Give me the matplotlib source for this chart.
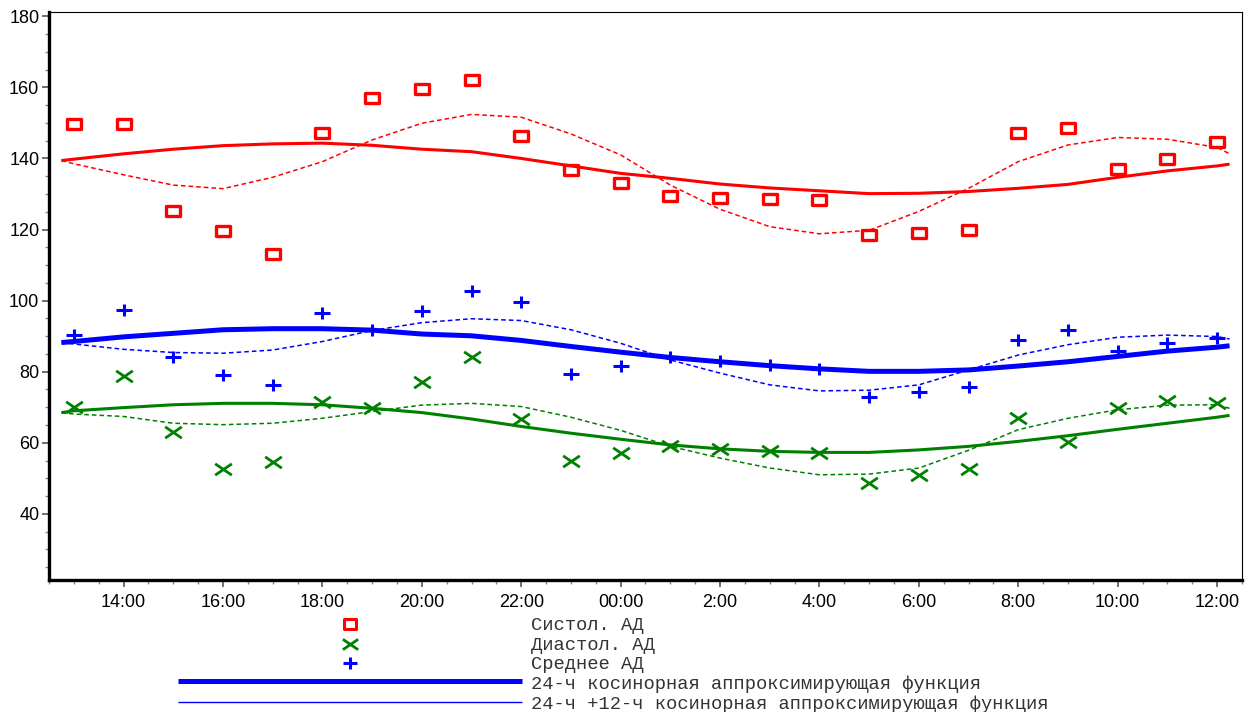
import matplotlib
matplotlib.use("Agg")
import matplotlib.pyplot as plt
from matplotlib.path import Path
from matplotlib.lines import Line2D
from matplotlib.ticker import MultipleLocator

# ---------------- data ----------------
hours = list(range(13, 37))  # 13:00 .. 12:00 next day (hours since first midnight)
systolic = [149.8, 149.8, 125.2, 119.6, 113.2, 147.2, 156.9, 159.4, 162.1, 146.4, 136.7, 133.0,
            129.3, 128.9, 128.5, 128.2, 118.5, 119.1, 119.9, 147.2, 148.7, 137.1, 139.8, 144.5]
diastolic = [70.2, 78.8, 63.1, 52.6, 54.6, 71.5, 69.8, 77.0, 84.0, 66.7, 54.8, 57.1,
             59.2, 58.3, 57.6, 57.1, 48.8, 50.8, 52.7, 67.1, 60.3, 69.9, 71.7, 71.1]
mean_bp = [90.3, 97.5, 84.1, 79.2, 76.3, 96.5, 91.8, 97.1, 102.8, 99.7, 79.3, 81.6,
           84.0, 82.9, 82.0, 80.9, 72.8, 74.3, 75.8, 89.0, 91.6, 85.9, 88.2, 89.4]

curve_hours = [12.75] + list(range(13, 37)) + [36.25]
sys_fit24 = [139.4, 139.8, 141.3, 142.6, 143.6, 144.1, 144.3, 143.7, 142.6, 141.9, 140.0, 137.9, 135.8,
             134.4, 132.8, 131.7, 130.9, 130.1, 130.2, 130.7, 131.6, 132.7, 134.7, 136.5, 137.9, 138.4]
sys_fit2412 = [139.4, 138.5, 135.4, 132.5, 131.5, 134.7, 139.1, 145.2, 149.9, 152.4, 151.6, 146.9, 141.0,
               132.5, 125.7, 120.8, 118.8, 119.8, 125.1, 131.6, 139.1, 143.8, 145.9, 145.4, 143.1, 141.3]
mean_fit24 = [88.2, 88.5, 89.8, 90.8, 91.8, 92.1, 92.1, 91.7, 90.6, 90.1, 88.8, 87.1, 85.5,
              84.0, 82.8, 81.7, 80.8, 80.1, 80.1, 80.5, 81.6, 82.8, 84.3, 85.8, 86.9, 87.3]
mean_fit2412 = [88.2, 87.8, 86.3, 85.4, 85.2, 86.1, 88.5, 91.6, 93.8, 94.9, 94.4, 91.8, 88.0,
                83.3, 79.6, 76.3, 74.6, 74.8, 76.3, 80.5, 84.7, 87.6, 89.7, 90.3, 89.9, 89.2]
dia_fit24 = [68.5, 69.0, 69.9, 70.7, 71.1, 71.1, 70.7, 69.7, 68.5, 66.7, 64.6, 62.7, 61.0,
             59.4, 58.3, 57.6, 57.3, 57.3, 58.0, 59.0, 60.4, 62.0, 63.8, 65.5, 67.2, 67.7]
dia_fit2412 = [68.5, 68.1, 67.4, 65.5, 65.1, 65.5, 66.9, 68.8, 70.6, 71.1, 70.2, 67.2, 63.5,
               59.0, 55.7, 52.9, 51.0, 51.2, 52.9, 57.9, 63.7, 66.9, 69.3, 70.6, 70.7, 69.7]

xtick_pos = [14, 16, 18, 20, 22, 24, 26, 28, 30, 32, 34, 36]
xtick_labels = ["14:00", "16:00", "18:00", "20:00", "22:00", "00:00",
                "2:00", "4:00", "6:00", "8:00", "10:00", "12:00"]
ytick_pos = [40, 60, 80, 100, 120, 140, 160, 180]

legend_labels = ["Систол. АД", "Диастол. АД", "Среднее АД",
                 "24-ч косинорная аппроксимирующая функция",
                 "24-ч +12-ч косинорная аппроксимирующая функция"]

# ---------------- markers ----------------
rect_marker = Path([(-1, -0.75), (1, -0.75), (1, 0.75), (-1, 0.75), (-1, -0.75)],
                   [Path.MOVETO, Path.LINETO, Path.LINETO, Path.LINETO, Path.CLOSEPOLY])
x_marker = Path([(-1, -0.68), (1, 0.68), (-1, 0.68), (1, -0.68)],
                [Path.MOVETO, Path.LINETO, Path.MOVETO, Path.LINETO])
plus_marker = Path([(-1, 0), (1, 0), (0, -0.8), (0, 0.8)],
                   [Path.MOVETO, Path.LINETO, Path.MOVETO, Path.LINETO])

RED = "#ff0000"
GREEN = "#008000"
BLUE = "#0000ff"

W, H = 1256, 712
fig = plt.figure(figsize=(W / 100, H / 100), dpi=100)
ax = fig.add_axes([49 / W, 1 - 580 / H, (1242 - 49) / W, (580 - 12) / H])

dash = (0, (3, 2))
ax.plot(curve_hours, sys_fit24, color=RED, lw=2.2, solid_capstyle="butt")
ax.plot(curve_hours, sys_fit2412, color=RED, lw=1.1, linestyle=dash)
ax.plot(curve_hours, mean_fit24, color=BLUE, lw=3.6, solid_capstyle="butt")
ax.plot(curve_hours, mean_fit2412, color=BLUE, lw=1.1, linestyle=dash)
ax.plot(curve_hours, dia_fit24, color=GREEN, lw=2.2, solid_capstyle="butt")
ax.plot(curve_hours, dia_fit2412, color=GREEN, lw=1.1, linestyle=dash)

ax.plot(hours, systolic, linestyle="none", marker=rect_marker, markersize=10.5,
        markerfacecolor="none", markeredgecolor=RED, markeredgewidth=2.4)
ax.plot(hours, diastolic, linestyle="none", marker=x_marker, markersize=12,
        markerfacecolor="none", markeredgecolor=GREEN, markeredgewidth=2.0)
ax.plot(hours, mean_bp, linestyle="none", marker=plus_marker, markersize=11,
        markerfacecolor="none", markeredgecolor=BLUE, markeredgewidth=2.2)

ax.set_xlim(12.5, 36.5)
ax.set_ylim(21.4, 181.2)
ax.set_xticks(xtick_pos)
ax.set_xticklabels(xtick_labels)
ax.set_yticks(ytick_pos)
ax.xaxis.set_minor_locator(MultipleLocator(0.5))
ax.yaxis.set_minor_locator(MultipleLocator(5))

for lab in ax.get_xticklabels() + ax.get_yticklabels():
    lab.set_fontfamily("Liberation Sans")
    lab.set_fontsize(13)
    lab.set_color("black")

ax.tick_params(axis="both", which="major", direction="out", length=5, width=1.2,
               color="#555555", pad=2)
ax.tick_params(axis="both", which="minor", direction="out", length=3, width=1.0,
               color="#888888")
ax.tick_params(axis="x", which="major", pad=5)

ax.spines["left"].set_linewidth(2.4)
ax.spines["bottom"].set_linewidth(2.4)
ax.spines["top"].set_linewidth(0.8)
ax.spines["right"].set_linewidth(0.8)
for s in ax.spines.values():
    s.set_color("black")

# ---------------- legend below the plot ----------------
def fx(px):
    return px / W

def fy(py):
    return 1 - py / H

rows_y = [624, 644, 663, 684, 704]
baselines = [630, 649.5, 669, 689, 708.7]
marker_x = 350
text_x = 531
fig.add_artist(Line2D([fx(marker_x)], [fy(rows_y[0])], linestyle="none", marker=rect_marker,
                      markersize=9, markerfacecolor="none", markeredgecolor=RED,
                      markeredgewidth=2.2, transform=fig.transFigure))
fig.add_artist(Line2D([fx(marker_x)], [fy(rows_y[1])], linestyle="none", marker=x_marker,
                      markersize=11, markerfacecolor="none", markeredgecolor=GREEN,
                      markeredgewidth=2.0, transform=fig.transFigure))
fig.add_artist(Line2D([fx(marker_x)], [fy(rows_y[2])], linestyle="none", marker=plus_marker,
                      markersize=10, markerfacecolor="none", markeredgecolor=BLUE,
                      markeredgewidth=2.2, transform=fig.transFigure))
fig.add_artist(Line2D([fx(178), fx(522)], [fy(rows_y[3] - 3)] * 2, color=BLUE, lw=3.6,
                      solid_capstyle="butt", transform=fig.transFigure))
fig.add_artist(Line2D([fx(178), fx(522)], [fy(rows_y[4] - 2)] * 2, color=BLUE, lw=1.0,
                      solid_capstyle="butt", transform=fig.transFigure))

for lab, by in zip(legend_labels, baselines):
    fig.text(fx(text_x), fy(by), lab, family=["Liberation Mono", "DejaVu Sans Mono"],
             fontsize=13.5, color="#333333", ha="left", va="baseline")

fig.savefig("out.png", dpi=100)
